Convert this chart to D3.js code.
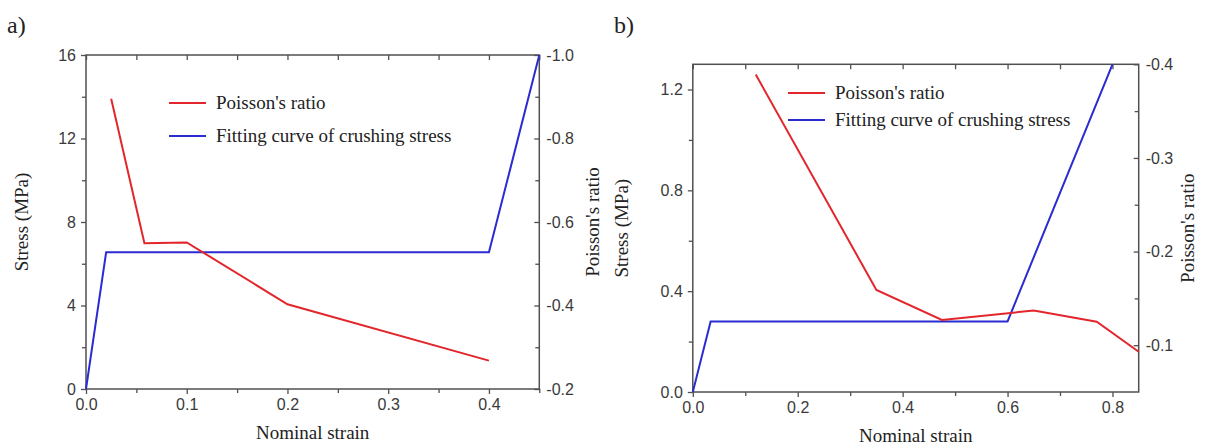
<!DOCTYPE html>
<html>
<head>
<meta charset="utf-8">
<script src="https://cdn.jsdelivr.net/npm/d3@7"></script>
<style>
  body { margin: 0; background: #fff; }
  .tick text { font-family: "Liberation Sans", Arial, sans-serif; font-size: 16px; fill: #3a3a3a; }
  .title { font-family: "Liberation Serif", "Times New Roman", serif; font-size: 19px; fill: #222; }
</style>
</head>
<body>
<svg id="chart"></svg>
<script>
// panel a) data
var strainA_ratio = [0.025, 0.058, 0.1, 0.2, 0.4];
var poissonA = [-0.895, -0.549, -0.551, -0.403, -0.268];
var strainA_fit = [0, 0.02, 0.4, 0.45];
var stressA = [0, 6.55, 6.55, 16];

// panel b) data
var strainB_ratio = [0.12, 0.35, 0.475, 0.65, 0.77, 0.85];
var poissonB = [-0.389, -0.159, -0.127, -0.137, -0.125, -0.093];
var strainB_fit = [0, 0.034, 0.6, 0.8];
var stressB = [0, 0.28, 0.28, 1.3];

var legendLabels = ["Poisson's ratio", "Fitting curve of crushing stress"];

var width = 1206, height = 447,
    red = "#e2262c", blue = "#2b2bd2", axisColor = "#505050";

var svg = d3.select("#chart")
    .attr("width", width)
    .attr("height", height);

// plain hyphen instead of unicode minus, like the original figure
function fmt(spec) {
  var f = d3.format(spec);
  return function(d) { return f(d).replace("\u2212", "-"); };
}

function drawPanel(p) {
  var x = d3.scaleLinear().domain(p.xDomain).range([p.left, p.right]);
  var yL = d3.scaleLinear().domain(p.yLDomain).range([p.bottom, p.top]);
  var yR = d3.scaleLinear().domain(p.yRDomain).range([p.bottom, p.top]);
  var g = svg.append("g");

  // minor ticks (no labels)
  g.append("g").attr("transform", "translate(0," + p.bottom + ")")
    .call(d3.axisBottom(x).tickValues(p.xMinor).tickSize(4).tickFormat(""));
  g.append("g").attr("transform", "translate(0," + p.top + ")")
    .call(d3.axisTop(x).tickValues(p.xMinor.concat(p.xTicks)).tickSize(-5).tickFormat(""));
  g.append("g").attr("transform", "translate(" + p.left + ",0)")
    .call(d3.axisLeft(yL).tickValues(p.yLMinor).tickSize(4).tickFormat(""));
  g.append("g").attr("transform", "translate(" + p.right + ",0)")
    .call(d3.axisRight(yR).tickValues(p.yRMinor).tickSize(-4).tickFormat(""));

  // major ticks
  g.append("g").attr("transform", "translate(0," + p.bottom + ")")
    .call(d3.axisBottom(x).tickValues(p.xTicks).tickSize(5).tickPadding(5).tickFormat(fmt(".1f")));
  g.append("g").attr("transform", "translate(" + p.left + ",0)")
    .call(d3.axisLeft(yL).tickValues(p.yLTicks).tickSize(5).tickPadding(5).tickFormat(fmt(p.yLFormat)));
  var ra = g.append("g").attr("transform", "translate(" + p.right + ",0)")
    .call(d3.axisRight(yR).tickValues(p.yRTicks).tickSize(-5).tickFormat(fmt(".1f")));
  ra.selectAll(".tick text").attr("x", 7);

  g.selectAll(".domain").remove();
  g.selectAll(".tick line").attr("stroke", axisColor).attr("stroke-width", 1.3);

  // frame
  g.append("rect")
    .attr("x", p.left).attr("y", p.top)
    .attr("width", p.right - p.left).attr("height", p.bottom - p.top)
    .attr("fill", "none").attr("stroke", axisColor).attr("stroke-width", 1.5);

  var lineL = d3.line().x(function(d) { return x(d[0]); }).y(function(d) { return yL(d[1]); });
  var lineR = d3.line().x(function(d) { return x(d[0]); }).y(function(d) { return yR(d[1]); });

  g.append("path")
    .datum(d3.zip(p.fitX, p.fitY))
    .attr("d", lineL)
    .attr("fill", "none").attr("stroke", blue).attr("stroke-width", 2);
  g.append("path")
    .datum(d3.zip(p.ratioX, p.ratioY))
    .attr("d", lineR)
    .attr("fill", "none").attr("stroke", red).attr("stroke-width", 2);

  // legend
  var colors = [red, blue];
  legendLabels.forEach(function(t, i) {
    var ly = p.legendY + i * p.legendGap;
    g.append("line")
      .attr("x1", p.legendX).attr("x2", p.legendX + 37)
      .attr("y1", ly).attr("y2", ly)
      .attr("stroke", colors[i]).attr("stroke-width", 2);
    g.append("text").attr("class", "title")
      .attr("x", p.legendX + 47).attr("y", ly + 6)
      .text(t);
  });

  // axis titles
  g.append("text").attr("class", "title")
    .attr("text-anchor", "middle")
    .attr("x", (p.left + p.right) / 2).attr("y", p.bottom + 50)
    .text("Nominal strain");
  g.append("text").attr("class", "title")
    .attr("text-anchor", "middle")
    .attr("transform", "translate(" + (p.left - p.yLTitleOff) + "," + (p.top + p.bottom) / 2 + ") rotate(-90)")
    .text("Stress (MPa)");
  g.append("text").attr("class", "title")
    .attr("text-anchor", "middle")
    .attr("transform", "translate(" + (p.right + p.yRTitleOff) + "," + (p.top + p.bottom) / 2 + ") rotate(-90)")
    .text("Poisson's ratio");

  svg.append("text").attr("class", "title")
    .attr("x", p.tagX).attr("y", 33)
    .style("font-size", "24px")
    .text(p.tag);
}

drawPanel({
  tag: "a)", tagX: 7,
  left: 86, right: 539.3, top: 55, bottom: 389,
  xDomain: [0, 0.45], xTicks: [0, 0.1, 0.2, 0.3, 0.4], xMinor: [0.05, 0.15, 0.25, 0.35, 0.45],
  yLDomain: [0, 16], yLTicks: [0, 4, 8, 12, 16], yLMinor: [2, 6, 10, 14], yLFormat: "d",
  yRDomain: [-0.2, -1.0], yRTicks: [-0.2, -0.4, -0.6, -0.8, -1.0], yRMinor: [-0.3, -0.5, -0.7, -0.9],
  ratioX: strainA_ratio, ratioY: poissonA, fitX: strainA_fit, fitY: stressA,
  legendX: 169, legendY: 103, legendGap: 33,
  yLTitleOff: 58, yRTitleOff: 60
});

drawPanel({
  tag: "b)", tagX: 614,
  left: 692.8, right: 1138.7, top: 64.3, bottom: 392,
  xDomain: [0, 0.85], xTicks: [0, 0.2, 0.4, 0.6, 0.8], xMinor: [0.1, 0.3, 0.5, 0.7],
  yLDomain: [0, 1.3], yLTicks: [0, 0.4, 0.8, 1.2], yLMinor: [0.2, 0.6, 1.0], yLFormat: ".1f",
  yRDomain: [-0.05, -0.4], yRTicks: [-0.1, -0.2, -0.3, -0.4], yRMinor: [-0.15, -0.25, -0.35],
  ratioX: strainB_ratio, ratioY: poissonB, fitX: strainB_fit, fitY: stressB,
  legendX: 788, legendY: 93, legendGap: 27,
  yLTitleOff: 65, yRTitleOff: 55
});
</script>
</body>
</html>
